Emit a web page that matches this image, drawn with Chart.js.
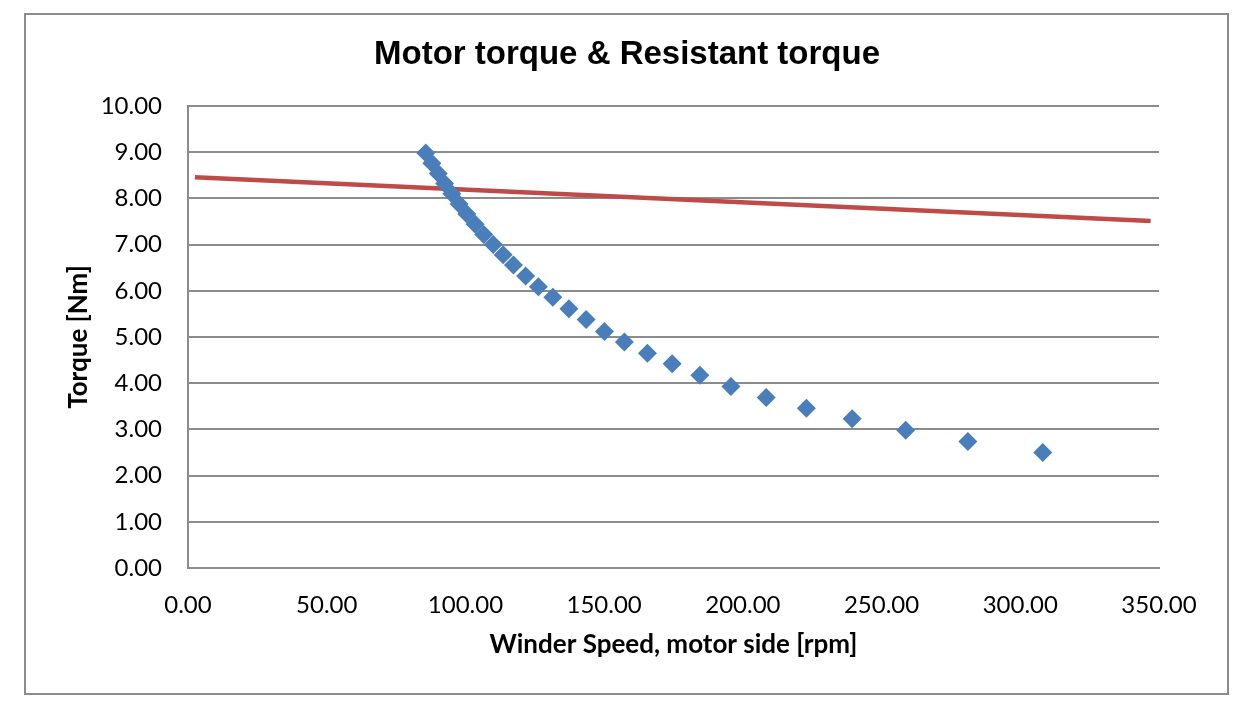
<!DOCTYPE html>
<html>
<head>
<meta charset="utf-8">
<title>Motor torque & Resistant torque</title>
<script src="https://cdn.jsdelivr.net/npm/chart.js@4.4.1/dist/chart.umd.min.js"></script>
<style>
    html, body { margin: 0; padding: 0; background: #ffffff; }
    #wrap { width: 1250px; height: 710px; }
</style>
</head>
<body>
<div id="wrap"><canvas id="chart" width="1250" height="710"></canvas></div>
<script>
// values
const motorSpeed = [85.7, 87.9, 90.2, 92.5, 95.1, 97.7, 100.5, 103.5, 106.6, 110.0,
    113.6, 117.3, 121.7, 126.3, 131.5, 137.3, 143.5, 150.1, 157.3, 165.6,
    174.5, 184.5, 195.7, 208.4, 222.9, 239.4, 258.7, 281.1, 308.1];
const motorTorque = [8.98, 8.76, 8.54, 8.32, 8.10, 7.88, 7.66, 7.44, 7.22, 7.00,
    6.78, 6.56, 6.32, 6.09, 5.86, 5.61, 5.38, 5.12, 4.89, 4.65,
    4.42, 4.17, 3.93, 3.69, 3.46, 3.23, 2.98, 2.74, 2.50];
const resistSpeed = [2.5, 347.0];
const resistTorque = [8.46, 7.51];

const xTicks = [0, 50, 100, 150, 200, 250, 300, 350];
const yTicks = [0, 1, 2, 3, 4, 5, 6, 7, 8, 9, 10];

const chartTitle = 'Motor torque & Resistant torque';

const GRID = '#8c8c8c';

function toPoints(xs, ys) {
    return xs.map((x, i) => ({ x: x, y: ys[i] }));
}

// white page, grey outer frame, and the title centred on the frame (not the plot)
const framePlugin = {
    id: 'frame',
    beforeDraw(chart) {
        const c = chart.ctx;
        c.save();
        c.fillStyle = '#ffffff';
        c.fillRect(0, 0, chart.width, chart.height);
        c.strokeStyle = GRID;
        c.lineWidth = 2;
        c.strokeRect(25, 14, 1203, 680);
        c.restore();
    },
    afterDraw(chart) {
        const c = chart.ctx;
        c.save();
        c.fillStyle = '#000000';
        c.font = 'bold 33px "Liberation Sans", Arial, sans-serif';
        c.textAlign = 'center';
        c.textBaseline = 'middle';
        c.fillText(chartTitle, 627, 55);
        c.restore();
    }
};

let config = {
    type: 'scatter',
    data: {
        datasets: [
            {
                label: 'Motor torque',
                data: toPoints(motorSpeed, motorTorque),
                pointStyle: 'rectRot',
                pointRadius: 9.5,
                pointHoverRadius: 9.5,
                backgroundColor: '#4a7ebb',
                borderColor: '#4a7ebb',
                borderWidth: 0,
                showLine: false
            },
            {
                label: 'Resistant torque',
                data: toPoints(resistSpeed, resistTorque),
                showLine: true,
                pointRadius: 0,
                borderColor: '#be4b48',
                borderWidth: 4.5,
                borderCapStyle: 'butt'
            }
        ]
    },
    options: {
        responsive: false,
        animation: false,
        devicePixelRatio: 1,
        layout: {
            padding: { left: 0, right: 91, top: 106, bottom: 0 }
        },
        plugins: {
            legend: { display: false },
            tooltip: { enabled: false },
            title: { display: false }
        },
        scales: {
            x: {
                type: 'linear',
                min: xTicks[0],
                max: xTicks[xTicks.length - 1],
                afterBuildTicks(scale) {
                    scale.ticks = xTicks.map(v => ({ value: v }));
                },
                afterFit(scale) {
                    scale.height = 142;
                },
                grid: { display: false, drawTicks: false },
                border: { display: true, color: GRID, width: 2 },
                ticks: {
                    padding: 23,
                    color: '#000000',
                    maxRotation: 0,
                    font: { family: 'Lato, sans-serif', size: 24 },
                    callback: v => v.toFixed(2)
                },
                title: {
                    display: true,
                    text: 'Winder Speed, motor side [rpm]',
                    color: '#000000',
                    font: { family: 'Lato, sans-serif', size: 26, weight: 'bold' },
                    padding: { top: 0, bottom: 50 }
                }
            },
            y: {
                type: 'linear',
                min: yTicks[0],
                max: yTicks[yTicks.length - 1],
                afterBuildTicks(scale) {
                    scale.ticks = yTicks.map(v => ({ value: v }));
                },
                afterFit(scale) {
                    scale.width = 188;
                },
                grid: { color: GRID, lineWidth: 2, drawTicks: false },
                border: { display: true, color: GRID, width: 2 },
                ticks: {
                    padding: 26,
                    color: '#000000',
                    font: { family: 'Lato, sans-serif', size: 24 },
                    callback: v => v.toFixed(2)
                },
                title: {
                    display: true,
                    text: 'Torque [Nm]',
                    color: '#000000',
                    font: { family: 'Lato, sans-serif', size: 26, weight: 'bold' },
                    padding: { top: 63, bottom: 0 }
                }
            }
        }
    },
    plugins: [framePlugin]
};

const ctx = document.getElementById('chart').getContext('2d');
const chart = new Chart(ctx, config);
</script>
</body>
</html>
